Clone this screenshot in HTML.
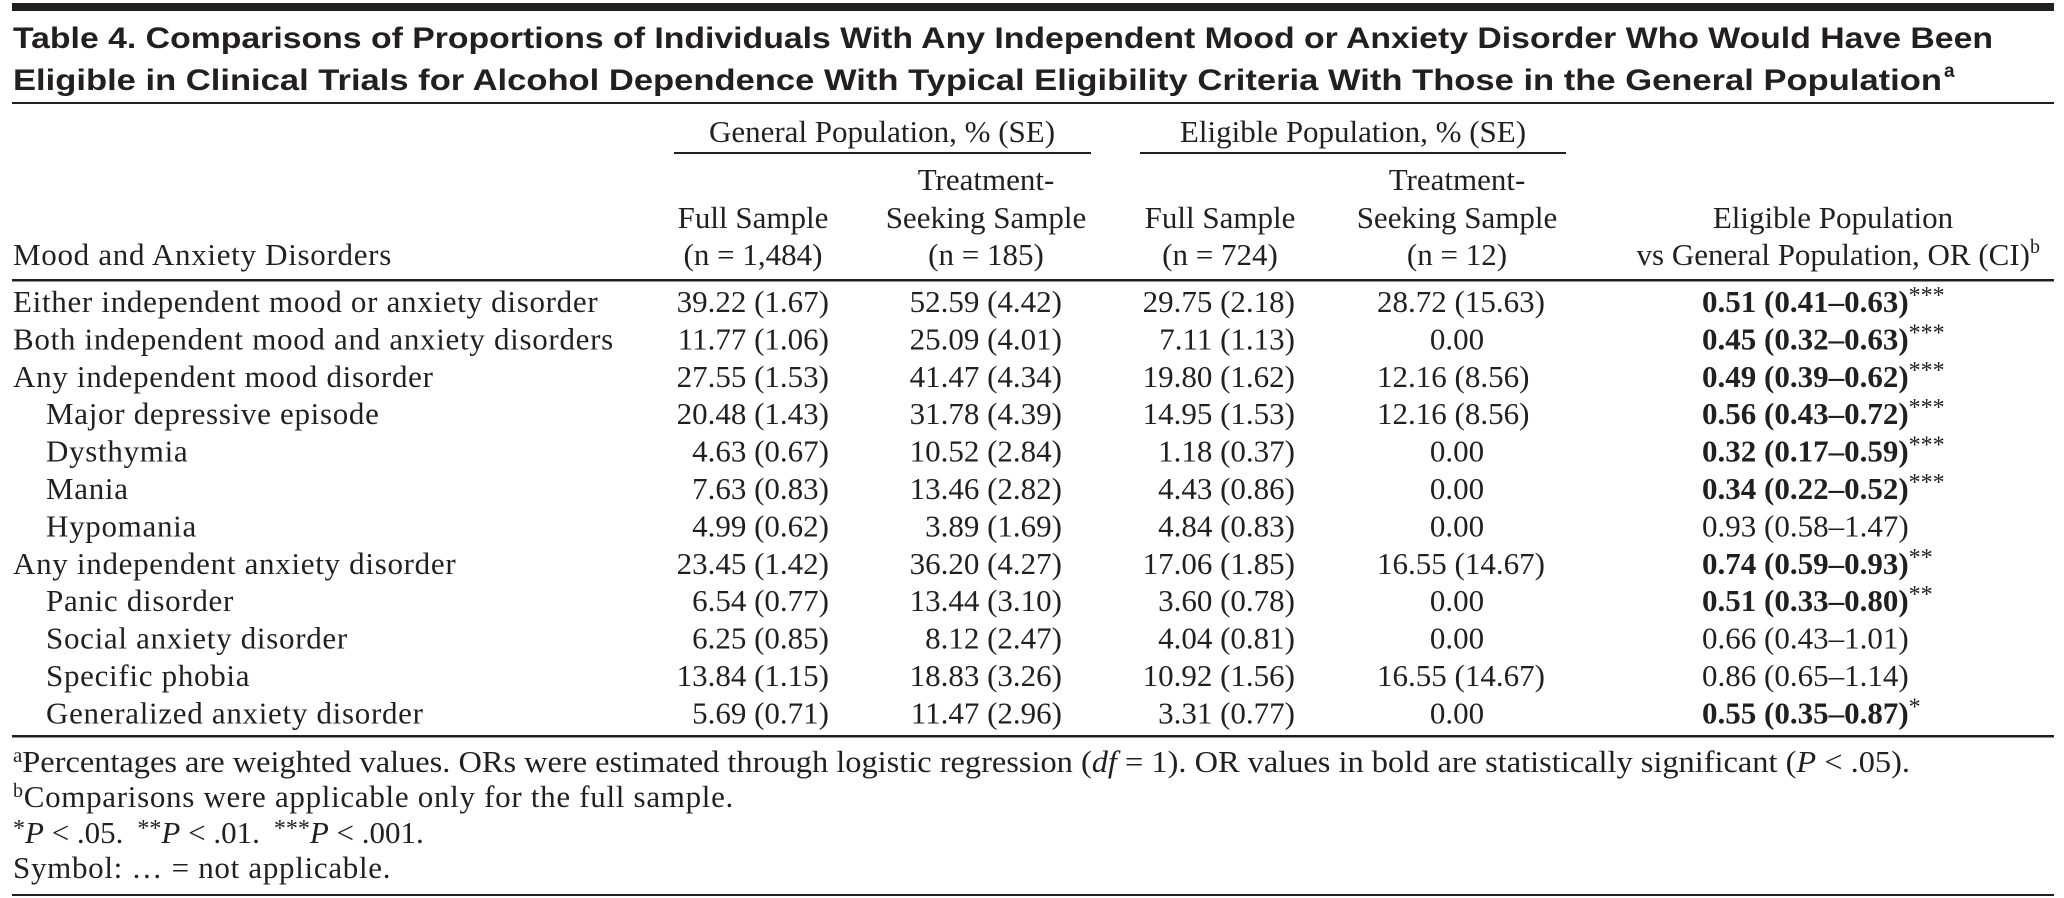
<!DOCTYPE html>
<html><head><meta charset="utf-8"><style>
html,body{margin:0;padding:0;background:#fff;}
svg{display:block;}
text{font-family:"Liberation Serif",serif;font-size:31px;fill:#231f20;}
.t{font-family:"Liberation Sans",sans-serif;font-weight:bold;font-size:30px;}
.b{font-weight:bold;}
.c{text-anchor:middle;}
.r{text-anchor:end;}
.l{letter-spacing:0.7px;}
.s{font-size:24px;}
</style></head><body>
<svg width="2064" height="898" viewBox="0 0 2064 898" xmlns="http://www.w3.org/2000/svg">
<rect x="12" y="3" width="2042" height="8" fill="#231f20"/>
<text class="t" x="13" y="48" textLength="1980" lengthAdjust="spacingAndGlyphs">Table 4. Comparisons of Proportions of Individuals With Any Independent Mood or Anxiety Disorder Who Would Have Been</text>
<text class="t" x="13" y="90" textLength="1929" lengthAdjust="spacingAndGlyphs">Eligible in Clinical Trials for Alcohol Dependence With Typical Eligibility Criteria With Those in the General Population</text>
<text class="t" x="1944" y="77" style="font-size:19px">a</text>
<rect x="12" y="102" width="2042" height="2" fill="#231f20"/>

<text class="c" x="882" y="142">General Population, % (SE)</text>
<text class="c" x="1353" y="142">Eligible Population, % (SE)</text>
<rect x="674" y="152" width="417" height="2" fill="#231f20"/>
<rect x="1140" y="152" width="426" height="2" fill="#231f20"/>

<text class="c" x="986" y="190">Treatment-</text>
<text class="c" x="1457" y="190">Treatment-</text>
<text class="c" x="753" y="228">Full Sample</text>
<text class="c" x="986" y="228">Seeking Sample</text>
<text class="c" x="1220" y="228">Full Sample</text>
<text class="c" x="1457" y="228">Seeking Sample</text>
<text class="c" x="1833" y="228">Eligible Population</text>
<text class="l" x="13" y="265">Mood and Anxiety Disorders</text>
<text class="c" x="753" y="265">(n = 1,484)</text>
<text class="c" x="986" y="265">(n = 185)</text>
<text class="c" x="1220" y="265">(n = 724)</text>
<text class="c" x="1457" y="265">(n = 12)</text>
<text class="r" x="2040" y="265">vs General Population, OR (CI)<tspan dy="-12" style="font-size:20px">b</tspan></text>
<rect x="12" y="279" width="2042" height="2.5" fill="#231f20"/>

<g>
<text class="l" x="13" y="312">Either independent mood or anxiety disorder</text>
<text class="r" x="829" y="312">39.22 (1.67)</text><text class="r" x="1062" y="312">52.59 (4.42)</text><text class="r" x="1295" y="312">29.75 (2.18)</text><text x="1377" y="312">28.72 (15.63)</text>
<text x="1702" y="312"><tspan class="b">0.51 (0.41–0.63)</tspan><tspan dy="-9" class="s">***</tspan></text>

<text class="l" x="13" y="349.4">Both independent mood and anxiety disorders</text>
<text class="r" x="829" y="349.4">11.77 (1.06)</text><text class="r" x="1062" y="349.4">25.09 (4.01)</text><text class="r" x="1295" y="349.4">7.11 (1.13)</text><text class="c" x="1457" y="349.4">0.00</text>
<text x="1702" y="349.4"><tspan class="b">0.45 (0.32–0.63)</tspan><tspan dy="-9" class="s">***</tspan></text>

<text class="l" x="13" y="386.8">Any independent mood disorder</text>
<text class="r" x="829" y="386.8">27.55 (1.53)</text><text class="r" x="1062" y="386.8">41.47 (4.34)</text><text class="r" x="1295" y="386.8">19.80 (1.62)</text><text x="1377" y="386.8">12.16 (8.56)</text>
<text x="1702" y="386.8"><tspan class="b">0.49 (0.39–0.62)</tspan><tspan dy="-9" class="s">***</tspan></text>

<text class="l" x="46" y="424.2">Major depressive episode</text>
<text class="r" x="829" y="424.2">20.48 (1.43)</text><text class="r" x="1062" y="424.2">31.78 (4.39)</text><text class="r" x="1295" y="424.2">14.95 (1.53)</text><text x="1377" y="424.2">12.16 (8.56)</text>
<text x="1702" y="424.2"><tspan class="b">0.56 (0.43–0.72)</tspan><tspan dy="-9" class="s">***</tspan></text>

<text class="l" x="46" y="461.6">Dysthymia</text>
<text class="r" x="829" y="461.6">4.63 (0.67)</text><text class="r" x="1062" y="461.6">10.52 (2.84)</text><text class="r" x="1295" y="461.6">1.18 (0.37)</text><text class="c" x="1457" y="461.6">0.00</text>
<text x="1702" y="461.6"><tspan class="b">0.32 (0.17–0.59)</tspan><tspan dy="-9" class="s">***</tspan></text>

<text class="l" x="46" y="499">Mania</text>
<text class="r" x="829" y="499">7.63 (0.83)</text><text class="r" x="1062" y="499">13.46 (2.82)</text><text class="r" x="1295" y="499">4.43 (0.86)</text><text class="c" x="1457" y="499">0.00</text>
<text x="1702" y="499"><tspan class="b">0.34 (0.22–0.52)</tspan><tspan dy="-9" class="s">***</tspan></text>

<text class="l" x="46" y="536.4">Hypomania</text>
<text class="r" x="829" y="536.4">4.99 (0.62)</text><text class="r" x="1062" y="536.4">3.89 (1.69)</text><text class="r" x="1295" y="536.4">4.84 (0.83)</text><text class="c" x="1457" y="536.4">0.00</text>
<text x="1702" y="536.4">0.93 (0.58–1.47)</text>

<text class="l" x="13" y="573.8">Any independent anxiety disorder</text>
<text class="r" x="829" y="573.8">23.45 (1.42)</text><text class="r" x="1062" y="573.8">36.20 (4.27)</text><text class="r" x="1295" y="573.8">17.06 (1.85)</text><text x="1377" y="573.8">16.55 (14.67)</text>
<text x="1702" y="573.8"><tspan class="b">0.74 (0.59–0.93)</tspan><tspan dy="-9" class="s">**</tspan></text>

<text class="l" x="46" y="611.2">Panic disorder</text>
<text class="r" x="829" y="611.2">6.54 (0.77)</text><text class="r" x="1062" y="611.2">13.44 (3.10)</text><text class="r" x="1295" y="611.2">3.60 (0.78)</text><text class="c" x="1457" y="611.2">0.00</text>
<text x="1702" y="611.2"><tspan class="b">0.51 (0.33–0.80)</tspan><tspan dy="-9" class="s">**</tspan></text>

<text class="l" x="46" y="648.6">Social anxiety disorder</text>
<text class="r" x="829" y="648.6">6.25 (0.85)</text><text class="r" x="1062" y="648.6">8.12 (2.47)</text><text class="r" x="1295" y="648.6">4.04 (0.81)</text><text class="c" x="1457" y="648.6">0.00</text>
<text x="1702" y="648.6">0.66 (0.43–1.01)</text>

<text class="l" x="46" y="686">Specific phobia</text>
<text class="r" x="829" y="686">13.84 (1.15)</text><text class="r" x="1062" y="686">18.83 (3.26)</text><text class="r" x="1295" y="686">10.92 (1.56)</text><text x="1377" y="686">16.55 (14.67)</text>
<text x="1702" y="686">0.86 (0.65–1.14)</text>

<text class="l" x="46" y="723.4">Generalized anxiety disorder</text>
<text class="r" x="829" y="723.4">5.69 (0.71)</text><text class="r" x="1062" y="723.4">11.47 (2.96)</text><text class="r" x="1295" y="723.4">3.31 (0.77)</text><text class="c" x="1457" y="723.4">0.00</text>
<text x="1702" y="723.4"><tspan class="b">0.55 (0.35–0.87)</tspan><tspan dy="-9" class="s">*</tspan></text>
</g>
<rect x="12" y="735" width="2042" height="2.5" fill="#231f20"/>

<text x="13" y="772" textLength="1897" lengthAdjust="spacingAndGlyphs"><tspan dy="-10" style="font-size:20px">a</tspan><tspan dy="10">Percentages are weighted values. ORs were estimated through logistic regression (</tspan><tspan font-style="italic">df</tspan><tspan> = 1). OR values in bold are statistically significant (</tspan><tspan font-style="italic">P</tspan><tspan> &lt; .05).</tspan></text>
<text class="l" x="13" y="807"><tspan dy="-10" style="font-size:20px">b</tspan><tspan dy="10">Comparisons were applicable only for the full sample.</tspan></text>
<text x="13" y="843"><tspan class="s" dy="-7">*</tspan><tspan dy="7" font-style="italic">P</tspan><tspan> &lt; .05.</tspan><tspan dx="14" class="s" dy="-7">**</tspan><tspan dy="7" font-style="italic">P</tspan><tspan> &lt; .01.</tspan><tspan dx="14" class="s" dy="-7">***</tspan><tspan dy="7" font-style="italic">P</tspan><tspan> &lt; .001.</tspan></text>
<text class="l" x="13" y="878">Symbol: … = not applicable.</text>
<rect x="12" y="894" width="2042" height="2" fill="#231f20"/>
</svg>
</body></html>
